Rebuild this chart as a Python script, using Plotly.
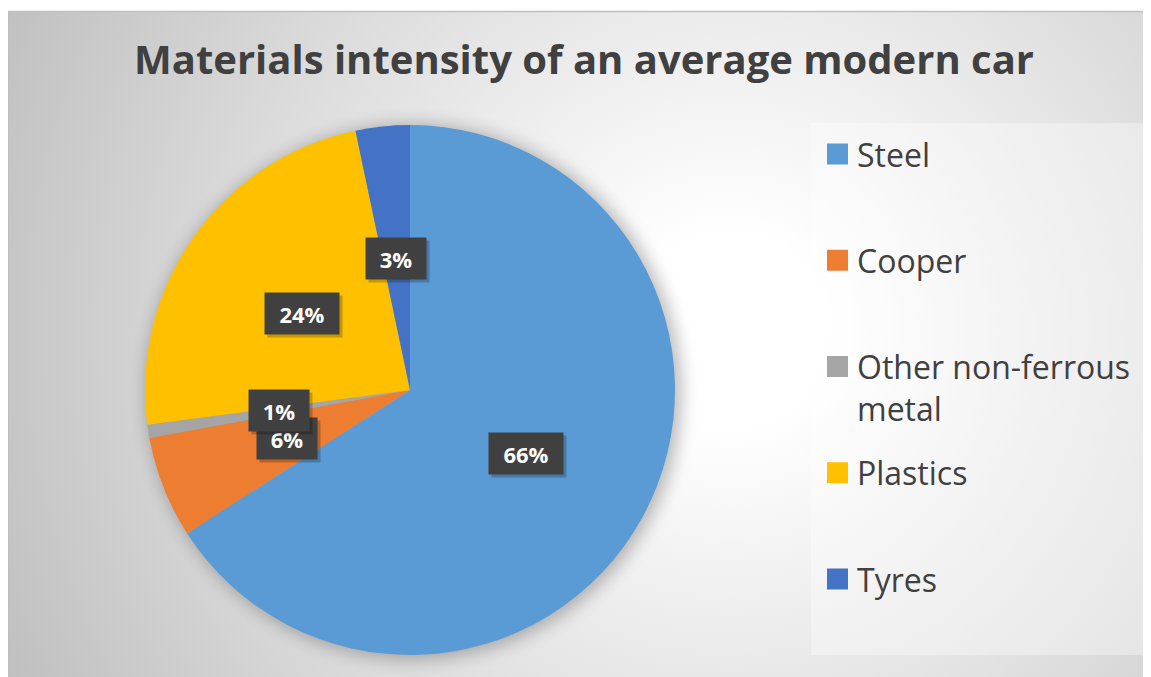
import base64
import textwrap
import math
import plotly.graph_objects as go

# ---------------- data ----------------
categories = ["Steel", "Cooper", "Other non-ferrous metal", "Plastics", "Tyres"]
values = [65.9, 6.2, 0.8, 23.8, 3.3]
colors = ["#5B9BD5", "#ED7D31", "#A5A5A5", "#FFC000", "#4472C4"]
title_text = "Materials intensity of an average modern car"

# ---------------- geometry ----------------
W, H = 1151, 677          # window
OFF = 8                   # default page margin around the plot div
FW, FH = W - OFF, H - OFF # figure size so it ends exactly at the window edge
CX, CY, R = 410, 390, 265 # pie centre / radius in window pixels


def px(x):
    return (x - OFF) / FW


def py(y):
    return 1 - (y - OFF) / FH


# ---------------- background (radial gradient + pie shadow) ----------------
svg = f'''<svg xmlns="http://www.w3.org/2000/svg" width="{FW}" height="{FH}" viewBox="{OFF} {OFF} {FW} {FH}" preserveAspectRatio="none">
<defs>
<radialGradient id="g" gradientUnits="userSpaceOnUse" cx="730" cy="330" r="800">
<stop offset="0" stop-color="#ffffff"/>
<stop offset="0.12" stop-color="#ffffff"/>
<stop offset="1" stop-color="#c0c0c0"/>
</radialGradient>
<filter id="b" x="-20%" y="-20%" width="140%" height="140%"><feGaussianBlur stdDeviation="9"/></filter>
</defs>
<rect x="0" y="0" width="{W}" height="{H}" fill="#ffffff"/>
<rect x="8" y="11" width="{W}" height="{H}" fill="url(#g)"/>
<line x1="8" y1="11.5" x2="{W}" y2="11.5" stroke="#bfbfbf" stroke-width="1.5"/>
<line x1="8.5" y1="11" x2="8.5" y2="{H}" stroke="#bfbfbf" stroke-width="1.5"/>
<circle cx="{CX + 4}" cy="{CY + 2}" r="{R + 2}" fill="#000000" opacity="0.28" filter="url(#b)"/>
</svg>'''
bg_src = "data:image/svg+xml;base64," + base64.b64encode(svg.encode()).decode()

fig = go.Figure()
fig.add_trace(go.Pie(
    labels=categories,
    values=values,
    marker=dict(colors=colors, line=dict(width=0)),
    sort=False,
    direction="clockwise",
    rotation=0,
    textinfo="none",
    hoverinfo="label+percent",
    showlegend=False,
    domain=dict(x=[px(CX - R), px(CX + R)], y=[py(CY + R), py(CY - R)]),
))

annotations = []
shapes = []

# ---------------- data labels (dark boxes) ----------------
total = sum(values)
cum = 0.0
for v in values:
    mid = (cum + v / 2) / total * 2 * math.pi
    cum += v
    lx = CX + 0.5 * R * math.sin(mid)
    ly = CY - 0.5 * R * math.cos(mid)
    txt = f"{round(v / total * 100)}%"
    wbox = 14 * len(txt) + 22
    common = dict(x=px(lx), y=py(ly), xref="paper", yref="paper", showarrow=False,
                  xanchor="center", yanchor="middle", borderpad=5, width=wbox, height=31,
                  text=f"<b>{txt}</b>")
    # shadow
    annotations.append(dict(common, font=dict(family="Open Sans", size=22, color="rgba(0,0,0,0)"),
                            bgcolor="rgba(0,0,0,0.22)", xshift=3, yshift=-3))
    annotations.append(dict(common, font=dict(family="Open Sans", size=22, color="#ffffff"),
                            bgcolor="#404040"))

# ---------------- legend (manual, Excel-like spacing) ----------------
LEG_X0, LEG_Y0, LEG_X1, LEG_Y1 = 811, 123, 1146, 655
shapes.append(dict(type="rect", xref="paper", yref="paper",
                   x0=px(LEG_X0), x1=px(LEG_X1), y0=py(LEG_Y1), y1=py(LEG_Y0),
                   fillcolor="rgba(255,255,255,0.35)", line=dict(width=0), layer="below"))
leg_fs = 32
first_c, step = 154, 106.25
for i, (lab, col) in enumerate(zip(categories, colors)):
    yc = first_c + i * step
    shapes.append(dict(type="rect", xref="paper", yref="paper",
                       x0=px(827), x1=px(848), y0=py(yc + 10.5), y1=py(yc - 10.5),
                       fillcolor=col, line=dict(width=0)))
    lines = textwrap.wrap(lab, 17)
    annotations.append(dict(
        x=px(855), y=py(yc), xref="paper", yref="paper", showarrow=False,
        xanchor="left", yanchor="middle", align="left",
        text="<br>".join(lines), font=dict(family="Open Sans", size=leg_fs, color="#404040"),
        yshift=-(len(lines) - 1) * leg_fs * 1.3 / 2,
    ))

fig.update_layout(
    width=FW, height=FH,
    margin=dict(l=0, r=0, t=0, b=0),
    paper_bgcolor="#ffffff",
    plot_bgcolor="rgba(0,0,0,0)",
    title=dict(text=f"<b>{title_text}</b>", x=px(584), xanchor="center",
               y=py(60), yanchor="middle",
               font=dict(family="Open Sans", size=40, color="#404040")),
    images=[dict(source=bg_src, xref="paper", yref="paper", x=0, y=1,
                 sizex=1, sizey=1, xanchor="left", yanchor="top",
                 sizing="stretch", layer="below")],
    annotations=annotations,
    shapes=shapes,
)

fig.write_html("out.html")
